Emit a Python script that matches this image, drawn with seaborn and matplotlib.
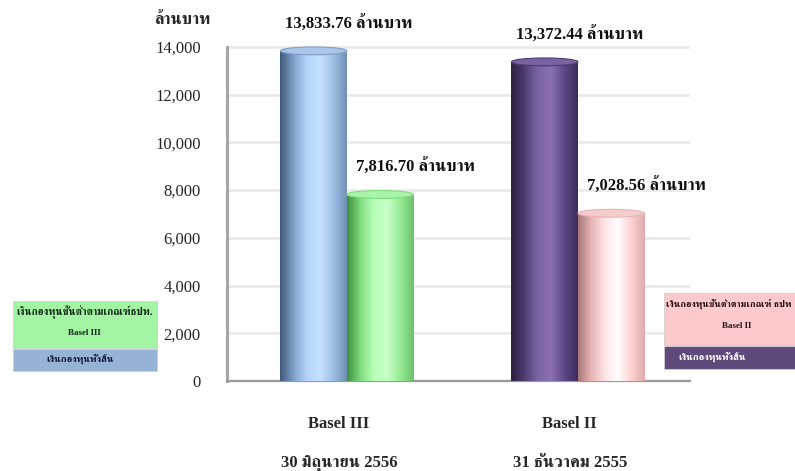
import numpy as np
import pandas as pd
import matplotlib
matplotlib.use("Agg")
import matplotlib.pyplot as plt
import seaborn as sns
from matplotlib import font_manager
from matplotlib.ft2font import FT2Font
from matplotlib.patches import Ellipse, Rectangle
from matplotlib.colors import LinearSegmentedColormap

# ---------------- data ----------------
groups = ["Basel III", "Basel II"]
dates = ["30 มิถุนายน 2556", "31 ธันวาคม 2555"]
series = ["เงินกองทุนทั้งสิ้น", "เงินกองทุนขั้นต่ำตามเกณฑ์ ธปท."]
total_capital = [13833.76, 13372.44]
min_capital = [7816.70, 7028.56]
yticks = [0, 2000, 4000, 6000, 8000, 10000, 12000, 14000]
unit = "ล้านบาท"
left_legend = ["เงินกองทุนขั้นต่ำตามเกณฑ์ธปท.", "Basel III", "เงินกองทุนทั้งสิ้น"]
right_legend = ["เงินกองทุนขั้นต่ำตามเกณฑ์ ธปท", "Basel II", "เงินกองทุนทั้งสิ้น"]

# ---------------- fonts ----------------
def find_thai():
    found = []
    for f in font_manager.fontManager.ttflist:
        try:
            cm = FT2Font(f.fname).get_charmap()
            if ord("ก") in cm and ord("ท") in cm:
                found.append(f.name)
        except Exception:
            pass
    found = sorted(set(found), key=lambda n: (0 if "Serif" in n else 1, n))
    return found

sns.set_style("white")
thai = find_thai()
fams = ["Liberation Serif"] + thai[:1] + ["DejaVu Sans"]
plt.rcParams["font.family"] = fams

W, H = 795, 471
fig = plt.figure(figsize=(W / 100, H / 100), dpi=100)
ax = fig.add_axes([227 / W, (H - 381) / H, (690 - 227) / W, (381 - 32.6) / H])

df = pd.DataFrame({
    "group": groups * 2,
    "series": [series[0]] * 2 + [series[1]] * 2,
    "value": total_capital + min_capital,
})
sns.barplot(data=df, x="group", y="value", hue="series", order=groups,
            hue_order=series, width=0.576, gap=0, saturation=1,
            errorbar=None, legend=False, ax=ax,
            palette=["#8fb0d8", "#90ee90"])

grads = [
    ["#3f5a7a", "#7f9fc6", "#b4d4fa", "#c4e2ff", "#9dbde2", "#6f8fb4"],   # blue
    ["#3f8f3f", "#7fdc7f", "#b8ffb8", "#c8ffc8", "#95ea95", "#6cc06c"],   # green
    ["#2c2042", "#4e3c70", "#7c64a4", "#8a72b2", "#5c4884", "#3c2c5c"],   # purple
    ["#a87878", "#e8b4b4", "#ffe4e4", "#ffffff", "#ffd0d0", "#dcaaaa"],   # pink
]
tops = ["#a9c6ea", "#a8f4a8", "#7a62a0", "#f4cccc"]

patches = sorted([p for p in ax.patches], key=lambda p: p.get_x())
ax.set_ylim(0, 14600)
ax.set_xlim(-0.519, 1.485)
eh = 330
for p, g, tc in zip(patches, grads, tops):
    x0, w, h = p.get_x(), p.get_width(), p.get_height()
    p.set_facecolor("none")
    p.set_edgecolor("none")
    cmap = LinearSegmentedColormap.from_list("c", g)
    grad = np.linspace(0, 1, 256).reshape(1, -1)
    ax.imshow(grad, cmap=cmap, extent=[x0, x0 + w, 0, h], aspect="auto",
              zorder=3, interpolation="bilinear")
    ax.add_patch(Ellipse((x0 + w / 2, h), w, eh, facecolor=tc,
                         edgecolor=g[1], lw=0.8, zorder=4))
    ax.annotate(f"{h:,.2f} {unit}", xy=(x0 + w / 2, h), xytext=(35, 28),
                textcoords="offset pixels", ha="center", va="center",
                fontsize=12, fontweight="bold", color="#111111", zorder=5)

ax.set_ylim(0, 14600)
ax.set_xlim(-0.519, 1.485)
ax.set_yticks(yticks)
ax.set_yticklabels([f"{t:,}" for t in yticks], fontsize=12)
label_shift = -0.035  # labels sit slightly left of the group centres
ax.set_xticks([i + label_shift for i in range(len(groups))])
ax.set_xticklabels([f"{g}\n{d}" for g, d in zip(groups, dates)],
                   fontsize=12, fontweight="bold", linespacing=2.95)
ax.tick_params(axis="y", length=0, pad=19)
ax.tick_params(axis="x", length=0, pad=25)
ax.set_xlabel("")
ax.set_ylabel("")
ax.yaxis.grid(True, color="#e8e8e8", lw=1.8)
ax.set_axisbelow(True)
for s in ["top", "right"]:
    ax.spines[s].set_visible(False)
ax.spines["left"].set_color("#a6a6a6")
ax.spines["left"].set_linewidth(2.2)
ax.spines["left"].set_bounds(0, 14000)
ax.spines["bottom"].set_color("#9a9a9a")
ax.spines["bottom"].set_linewidth(1.6)

fig.text(183 / W, 1 - 20 / H, unit, ha="center", va="center",
         fontsize=12, fontweight="bold")

# ---------------- legend boxes ----------------
def box(x0, y0, x1, y1, color):
    fig.add_artist(Rectangle((x0 / W, 1 - y1 / H), (x1 - x0) / W, (y1 - y0) / H,
                             transform=fig.transFigure, facecolor=color,
                             edgecolor="#d0d0d0", lw=0.6))

box(13, 301, 157, 348, "#a3f5a3")
box(13, 349, 157, 371, "#95b3d7")
fig.text(85 / W, 1 - 312 / H, left_legend[0], ha="center", va="center", fontsize=7.6, fontweight="bold", color="#14281a")
fig.text(84 / W, 1 - 333 / H, left_legend[1], ha="center", va="center", fontsize=6.5, fontweight="bold", color="#14281a")
fig.text(80 / W, 1 - 360 / H, left_legend[2], ha="center", va="center", fontsize=7.2, fontweight="bold", color="#141c38")

box(664, 293, 800, 345, "#fccaca")
box(664, 346, 800, 369, "#604a7b")
fig.text(666 / W, 1 - 304 / H, right_legend[0], ha="left", va="center", fontsize=6.9, fontweight="bold", color="#2a1414")
fig.text(737 / W, 1 - 326 / H, right_legend[1], ha="center", va="center", fontsize=6.5, fontweight="bold", color="#2a1414")
fig.text(712 / W, 1 - 358 / H, right_legend[2], ha="center", va="center", fontsize=7.2, fontweight="bold", color="white")

fig.savefig("out.png", dpi=100)
